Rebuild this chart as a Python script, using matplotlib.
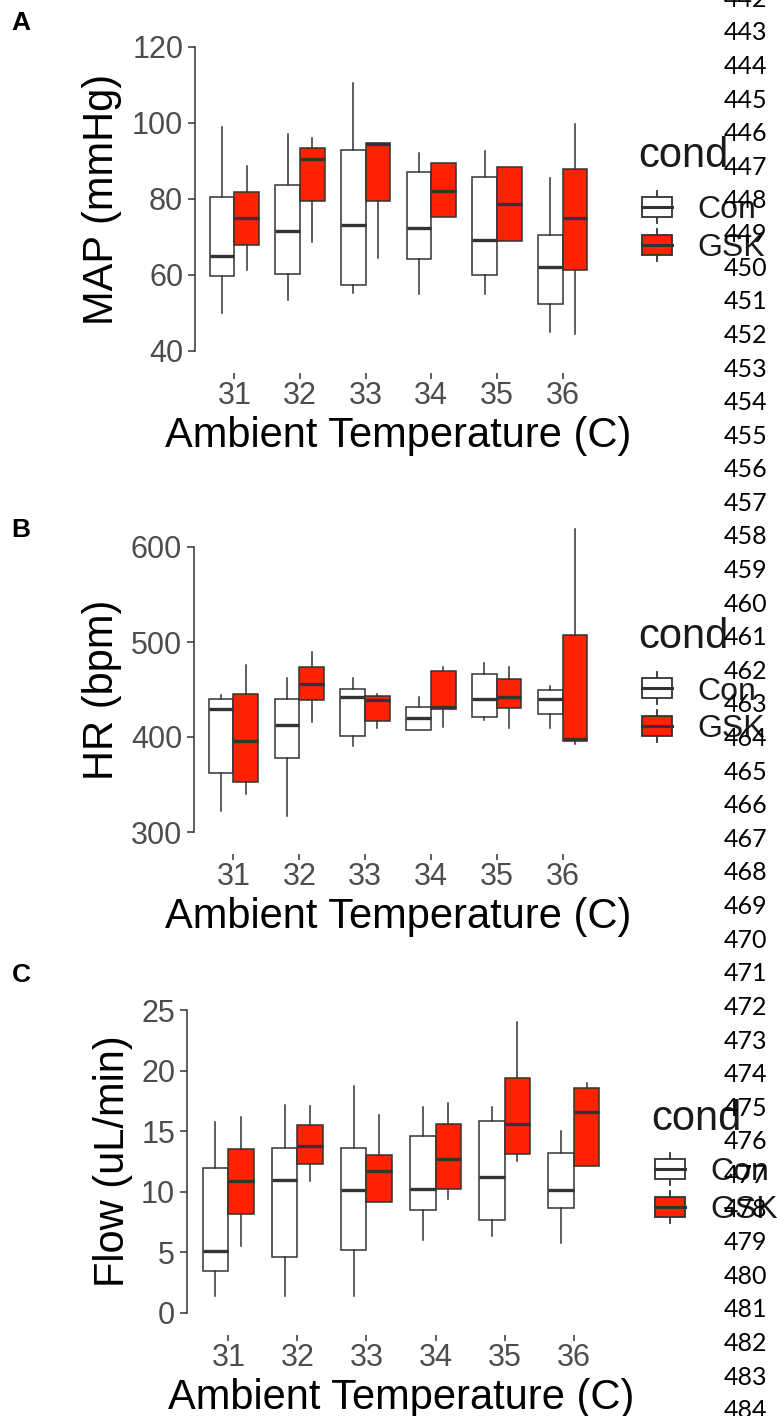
import matplotlib
matplotlib.use('Agg')
import matplotlib.pyplot as plt
from matplotlib.legend_handler import HandlerBase
from matplotlib.patches import Rectangle, Patch
from matplotlib.lines import Line2D

plt.rcParams['font.family'] = ['Liberation Sans', 'DejaVu Sans']

# Categories
temps = ['31', '32', '33', '34', '35', '36']
groups = ['Con', 'GSK']
group_colors = ['#FFFFFF', '#FF2200']
edge = '#333333'

# Panel A - MAP (mmHg): lower whisker, Q1, median, Q3, upper whisker
map_con_lo = [50.1, 53.4, 55.3, 55.1, 55.1, 45.1]
map_con_q1 = [59.7, 60.3, 57.4, 64.1, 59.9, 52.4]
map_con_med = [64.9, 71.7, 73.2, 72.4, 69.3, 62.0]
map_con_q3 = [80.5, 83.7, 92.9, 87.2, 85.9, 70.4]
map_con_hi = [99.0, 97.0, 110.4, 92.0, 92.7, 85.5]
map_gsk_lo = [61.3, 68.7, 64.5, 75.2, 69.0, 44.6]
map_gsk_q1 = [68.0, 79.6, 79.5, 75.2, 69.0, 61.3]
map_gsk_med = [75.0, 90.5, 94.6, 82.2, 78.7, 75.0]
map_gsk_q3 = [81.9, 93.3, 94.8, 89.6, 88.3, 87.8]
map_gsk_hi = [88.8, 96.0, 94.8, 89.6, 88.3, 99.7]

# Panel B - HR (bpm)
hr_con_lo = [321.7, 317.2, 391.0, 407.5, 418.0, 410.0]
hr_con_q1 = [362.0, 378.4, 400.8, 407.5, 421.5, 424.6]
hr_con_med = [429.5, 412.7, 442.1, 419.7, 439.7, 439.7]
hr_con_q3 = [440.0, 440.3, 450.2, 432.0, 466.0, 449.5]
hr_con_hi = [444.2, 462.4, 462.4, 441.8, 477.5, 454.0]
hr_gsk_lo = [340.3, 415.5, 410.0, 410.3, 410.0, 393.0]
hr_gsk_q1 = [352.2, 438.6, 417.0, 429.2, 430.2, 396.0]
hr_gsk_med = [396.3, 455.4, 438.6, 431.3, 442.5, 397.7]
hr_gsk_q3 = [445.6, 473.6, 443.5, 469.8, 460.7, 507.2]
hr_gsk_hi = [475.7, 489.0, 445.0, 474.0, 474.0, 619.3]

# Panel C - Flow (uL/min)
flow_con_lo = [1.4, 1.4, 1.4, 6.0, 6.33, 5.78]
flow_con_q1 = [3.5, 4.63, 5.23, 8.48, 7.71, 8.67]
flow_con_med = [5.1, 10.96, 10.13, 10.2, 11.18, 10.13]
flow_con_q3 = [12.0, 13.6, 13.6, 14.6, 15.83, 13.24]
flow_con_hi = [15.8, 17.2, 18.7, 17.0, 17.0, 15.0]
flow_gsk_lo = [5.5, 10.9, 9.17, 9.44, 12.56, 12.1]
flow_gsk_q1 = [8.15, 12.28, 9.17, 10.2, 13.16, 12.1]
flow_gsk_med = [10.9, 13.8, 11.73, 12.7, 15.6, 16.6]
flow_gsk_q3 = [13.55, 15.5, 13.0, 15.6, 19.4, 18.6]
flow_gsk_hi = [16.2, 17.1, 16.3, 17.3, 24.0, 19.0]

# Line numbers on the right margin
line_numbers = list(range(442, 485))


def make_stats(lo, q1, med, q3, hi):
    return [dict(whislo=a, q1=b, med=c, q3=d, whishi=e, fliers=[])
            for a, b, c, d, e in zip(lo, q1, med, q3, hi)]


class BoxKeyHandler(HandlerBase):
    # ggplot style boxplot legend key
    def create_artists(self, legend, orig_handle, xdescent, ydescent,
                       width, height, fontsize, trans):
        x0, y0 = -xdescent, -ydescent
        xm = x0 + width / 2
        ym = y0 + height / 2
        bh = height * 0.95
        box = Rectangle((x0, ym - bh / 2), width, bh,
                        facecolor=orig_handle.get_facecolor(),
                        edgecolor=edge, lw=1.3, transform=trans)
        med = Line2D([x0, x0 + width], [ym, ym], color=edge, lw=2.2, transform=trans)
        up = Line2D([xm, xm], [ym + bh / 2, ym + height * 0.76], color=edge, lw=1.3, transform=trans)
        dn = Line2D([xm, xm], [ym - bh / 2, ym - height * 0.76], color=edge, lw=1.3, transform=trans)
        return [up, dn, box, med]


fig = plt.figure(figsize=(7.77, 14.16), dpi=100)
W, H = 777.0, 1416.0

panels = [
    dict(rect=[195, 47, 602, 351], ylim=(40, 120), yticks=[40, 60, 80, 100, 120],
         ylabel='MAP (mmHg)', ylab_x=122, letter='A', letter_y=23,
         title_xy=(638, 167), leg_xy=(642, 229),
         con=make_stats(map_con_lo, map_con_q1, map_con_med, map_con_q3, map_con_hi),
         gsk=make_stats(map_gsk_lo, map_gsk_q1, map_gsk_med, map_gsk_q3, map_gsk_hi)),
    dict(rect=[194, 547, 602, 832], ylim=(300, 600), yticks=[300, 400, 500, 600],
         ylabel='HR (bpm)', ylab_x=122, letter='B', letter_y=530,
         title_xy=(638, 648), leg_xy=(642, 710.5),
         con=make_stats(hr_con_lo, hr_con_q1, hr_con_med, hr_con_q3, hr_con_hi),
         gsk=make_stats(hr_gsk_lo, hr_gsk_q1, hr_gsk_med, hr_gsk_q3, hr_gsk_hi)),
    dict(rect=[187, 1010, 615, 1313], ylim=(0, 25), yticks=[0, 5, 10, 15, 20, 25],
         ylabel='Flow (uL/min)', ylab_x=133, letter='C', letter_y=975,
         title_xy=(651, 1130), leg_xy=(655, 1191),
         con=make_stats(flow_con_lo, flow_con_q1, flow_con_med, flow_con_q3, flow_con_hi),
         gsk=make_stats(flow_gsk_lo, flow_gsk_q1, flow_gsk_med, flow_gsk_q3, flow_gsk_hi)),
]

positions = list(range(1, len(temps) + 1))
bw = 0.375

for p in panels:
    x0, y0, x1, y1 = p['rect']
    ax = fig.add_axes([x0 / W, 1 - y1 / H, (x1 - x0) / W, (y1 - y0) / H])

    for stats, off, fc in [(p['con'], -bw / 2, group_colors[0]), (p['gsk'], bw / 2, group_colors[1])]:
        bp = ax.bxp(stats, positions=[x + off for x in positions], widths=bw,
                    patch_artist=True, showfliers=False, showcaps=False,
                    boxprops=dict(facecolor=fc, edgecolor=edge, linewidth=1.1),
                    medianprops=dict(color=edge, linewidth=2.4, solid_capstyle='butt'),
                    whiskerprops=dict(color=edge, linewidth=1.1))
        for a in bp['whiskers'] + bp['boxes'] + bp['medians']:
            a.set_clip_on(False)

    ax.set_xlim(0.4, len(temps) + 0.6)
    ax.set_ylim(*p['ylim'])
    ax.set_xticks(positions)
    ax.set_xticklabels(temps)
    ax.set_yticks(p['yticks'])

    for s in ['top', 'right']:
        ax.spines[s].set_visible(False)
    ax.spines['bottom'].set_position(('outward', 16))
    ax.spines['bottom'].set_visible(False)
    ax.spines['left'].set_linewidth(1.1)
    ax.spines['left'].set_color(edge)

    ax.tick_params(axis='x', length=4, width=1.1, color=edge, pad=1.5,
                   labelsize=22, labelcolor='#4D4D4D')
    ax.tick_params(axis='y', length=5, width=1.1, color=edge, pad=3.5,
                   labelsize=22, labelcolor='#4D4D4D')

    ax.set_xlabel('Ambient Temperature (C)', fontsize=30, color='black')
    ax.set_ylabel(p['ylabel'], fontsize=30, color='black')
    ax.xaxis.set_label_coords(0.5, -65 / (y1 - y0))
    ax.yaxis.set_label_coords((p['ylab_x'] - x0) / (x1 - x0), 0.5)

    # legend: title as its own text, keys below
    tx, ty = p['title_xy']
    fig.text(tx / W, 1 - ty / H, 'cond', fontsize=30, ha='left', va='baseline', color='#1A1A1A')
    lx, ly = p['leg_xy']
    handles = [Patch(facecolor=c, edgecolor=edge) for c in group_colors]
    leg = ax.legend(handles, groups, loc='center left',
                    bbox_to_anchor=(lx / W, 1 - ly / H), bbox_transform=fig.transFigure,
                    frameon=False, fontsize=23,
                    handler_map={Patch: BoxKeyHandler()}, handlelength=0.94,
                    handleheight=0.64, handletextpad=0.78, labelspacing=0.25,
                    borderpad=0, borderaxespad=0)
    for t in leg.get_texts():
        t.set_color('#1A1A1A')

    fig.text(21 / W, 1 - p['letter_y'] / H, p['letter'], fontsize=19, fontweight='bold',
             family='Liberation Sans', ha='center', va='center')

# Line numbers
for i, n in enumerate(line_numbers):
    y = -0.6 + 33.6 * i
    fig.text(767 / W, 1 - y / H, str(n), fontsize=18, family='Lato',
             ha='right', va='center', color='black', zorder=5)

fig.savefig('out.png', dpi=100)
